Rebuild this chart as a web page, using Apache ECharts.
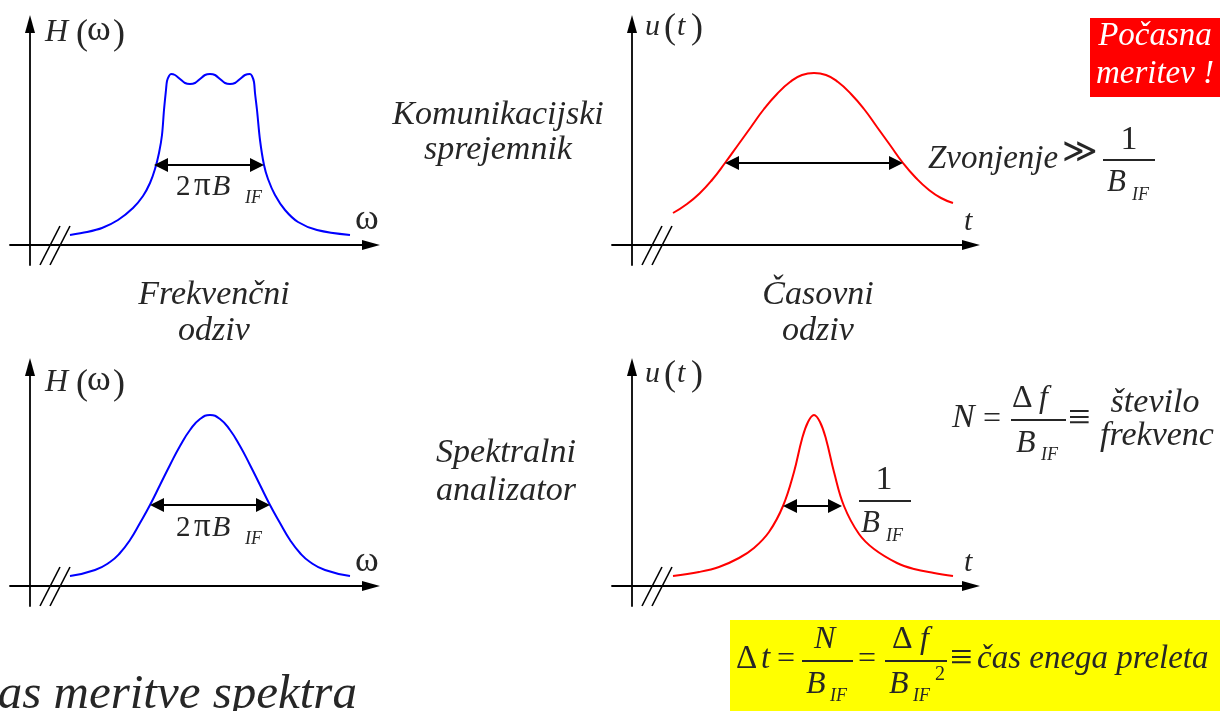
<!DOCTYPE html>
<html><head><meta charset="utf-8">
<script src="https://cdn.jsdelivr.net/npm/echarts@6/dist/echarts.min.js"></script>
<style>html,body{margin:0;padding:0;background:#fff}#c{width:1220px;height:711px}</style>
</head><body><div id="c"></div>
<script>
// ---- data (x: position along the axis, y: amplitude above the axis) ----
const filterX   = [40,57,72,88,103,113,120,125,129,132,134,136,137,139,141,145,150,155,160,165,170,175,180,185,190,195,200,205,210,215,220,222,224,225,227,230,234,238,245,255,268,287,320];
const filterY   = [10,13,17,25,37,49,62,76,92,110,135,155,164,169,171,170,166,162,161,162,166,170,171,170,166,162,161,162,166,170,171,169,163,152,135,105,80,66,50,35,23,15,10];
const ringX     = [41,55,68,80,93,106,119,132,145,158,170,182,194,206,219,232,245,258,271,284,297,309,321];
const ringY     = [32,41,52,65,82,100,118,136,151,163,170,172,170,163,151,136,118,100,82,67,55,47,42];
const gaussX    = [40,65,80,90,100,110,120,130,140,150,160,170,180,190,200,210,220,230,240,250,260,270,280,295,320];
const gaussY    = [10,16,24,33,46,63,81,101,121,140,156,167,171,167,156,140,121,101,81,63,46,33,24,16,10];
const pulseX    = [41,67,87,107,122,137,151,162,170,176,182,188,194,202,212,227,242,265,282,302,321];
const pulseY    = [10,14,19,28,38,54,80,114,147,164,171,164,147,114,80,52,37,23,17,13,10];
// width markers: [from, to, level]
const spanTL = [124,234,80];
const spanTR = [93,271,82];
const spanBL = [120,240,81];
const spanBR = [151,210,80];
// axis-break strokes
const breakA = [[10,-20],[30,19]];
const breakB = [[20,-20],[40,19]];

const zip = (xs, ys) => xs.map((x, i) => [x, ys[i]]);
const INK = '#262626';
const FONT = 'Liberation Serif';
const AH = 7; // half size of marker arrowheads

const grids = [
  {left:10,  top:24,  width:361, height:241},
  {left:612, top:24,  width:359, height:241},
  {left:10,  top:367, width:361, height:239},
  {left:612, top:367, width:359, height:239}
];
const xr = [[-20,341],[-20,339],[-20,341],[-20,339]];
const yr = [[-20,221],[-20,221],[-20,219],[-20,219]];

const axisLine = {show:true, onZero:true, symbol:['none','triangle'], symbolSize:[10,18], lineStyle:{color:'#000', width:1.8}};
const xAxis = grids.map((g,i)=>({gridIndex:i, type:'value', min:xr[i][0], max:xr[i][1], axisLine:axisLine, axisTick:{show:false}, axisLabel:{show:false}, splitLine:{show:false}}));
const yAxis = grids.map((g,i)=>({gridIndex:i, type:'value', min:yr[i][0], max:yr[i][1], axisLine:axisLine, axisTick:{show:false}, axisLabel:{show:false}, splitLine:{show:false}}));

function curve(i, xs, ys, color, span, sm){
  return {type:'line', xAxisIndex:i, yAxisIndex:i, data:zip(xs,ys), smooth:sm, showSymbol:false, silent:true,
    lineStyle:{color:color, width:2}, z:3,
    markLine:{silent:true, symbol:['triangle','triangle'], symbolSize:2*AH, animation:false,
      label:{show:false}, lineStyle:{color:'#000', width:2, type:'solid'},
      data:[[{coord:[span[0]+AH, span[2]]},{coord:[span[1]-AH, span[2]]}]]}};
}
function brk(i){
  return {type:'lines', coordinateSystem:'cartesian2d', xAxisIndex:i, yAxisIndex:i, silent:true, z:4,
    lineStyle:{color:'#000', width:1.6, opacity:1}, data:[{coords:breakA},{coords:breakB}]};
}

function T(x, b, s, size, o){
  o = o || {};
  return {type:'text', silent:true, z:20, x:x, y:b - 0.3375*size,
    style:{text:s, fontFamily:o.fam||FONT, fontSize:size, fontStyle:o.it?'italic':'normal', fill:o.fill||INK, align:o.align||'left', verticalAlign:'middle'}};
}
function bar(x1, x2, y){ return {type:'rect', silent:true, z:20, shape:{x:x1, y:y-1, width:x2-x1, height:2}, style:{fill:INK}}; }

const g = [];
// boxes
g.push({type:'rect', silent:true, z:1, shape:{x:1090, y:18, width:130, height:79}, style:{fill:'#ff0000'}});
g.push({type:'rect', silent:true, z:1, shape:{x:730, y:620, width:490, height:91}, style:{fill:'#ffff00'}});
// H(ω) labels
[43,393].forEach(b=>{
  g.push(T(45,b,'H',32,{it:1}), T(76,b+4,'(',36), T(87,b,'ω',36), T(113,b+4,')',36));
  g.push(T(355,b===43?232:574,'ω',36));
});
// 2πB_IF
[[197,204],[538,545]].forEach(([b,bs])=>{
  g.push(T(176,b,'2',29), T(194,b,'π',33), T(212,b,'B',30,{it:1}), T(245,bs,'IF',18,{it:1}));
});
// u(t)
[37,384].forEach(b=>{
  g.push(T(645,b,'u',30,{it:1}), T(664,b+4,'(',36), T(677,b,'t',30,{it:1}), T(691,b+4,')',36));
});
g.push(T(964,232,'t',30,{it:1}), T(964,573,'t',30,{it:1}));
// red box text
g.push(T(1155,47,'Počasna',33,{it:1,fill:'#fff',align:'center'}), T(1155,85,'meritev !',33,{it:1,fill:'#fff',align:'center'}));
// side captions
g.push(T(498,127,'Komunikacijski',34,{it:1,align:'center'}), T(498,162,'sprejemnik',34,{it:1,align:'center'}));
g.push(T(214,307,'Frekvenčni',34,{it:1,align:'center'}), T(214,343,'odziv',34,{it:1,align:'center'}));
g.push(T(818,307,'Časovni',34,{it:1,align:'center'}), T(818,343,'odziv',34,{it:1,align:'center'}));
g.push(T(506,465,'Spektralni',34,{it:1,align:'center'}), T(506,503,'analizator',34,{it:1,align:'center'}));
// Zvonjenje >> 1/B_IF
g.push(T(928,170,'Zvonjenje',33,{it:1}), T(1062,165,'≫',34,{fam:'DejaVu Serif'}));
g.push(T(1129,152,'1',34,{align:'center'}), bar(1103,1155,160), T(1107,193,'B',31,{it:1}), T(1132,201,'IF',18,{it:1}));
// 1/B_IF bottom
g.push(T(884,492,'1',34,{align:'center'}), bar(859,911,501), T(861,534,'B',31,{it:1}), T(886,542,'IF',18,{it:1}));
// N = Δf/B_IF ≡ število frekvenc
g.push(T(952,430,'N',34,{it:1}), T(983,430,'=',32));
g.push(T(1012,409,'Δ',32), T(1039,409,'f',32,{it:1}), bar(1011,1066,420), T(1016,454,'B',32,{it:1}), T(1041,461,'IF',18,{it:1}));
g.push(T(1068,433,'≡',40));
g.push(T(1155,415,'število',34,{it:1,align:'center'}), T(1157,448,'frekvenc',34,{it:1,align:'center'}));
// yellow box formula
g.push(T(736,670,'Δ',33), T(761,670,'t',33,{it:1}), T(777,670,'=',32));
g.push(T(814,650,'N',32,{it:1}), bar(802,853,661), T(806,695,'B',32,{it:1}), T(830,702,'IF',18,{it:1}));
g.push(T(858,670,'=',32));
g.push(T(892,650,'Δ',32), T(920,650,'f',32,{it:1}), bar(885,947,661), T(889,695,'B',32,{it:1}), T(913,702,'IF',18,{it:1}), T(935,681,'2',20));
g.push(T(950,673,'≡',40));
g.push(T(977,670,'čas enega preleta',33,{it:1}));
// title (cut at the page edges)
g.push(T(-35,712,'Čas meritve spektra',49,{it:1}));

const chart = echarts.init(document.getElementById('c'), null, {renderer:'canvas'});
chart.setOption({
  animation:false,
  backgroundColor:'#fff',
  grid:grids,
  xAxis:xAxis,
  yAxis:yAxis,
  series:[
    curve(0, filterX, filterY, '#0000ff', spanTL, 0.3),
    curve(1, ringX, ringY, '#ff0000', spanTR, 0.5),
    curve(2, gaussX, gaussY, '#0000ff', spanBL, 0.5),
    curve(3, pulseX, pulseY, '#ff0000', spanBR, 0.4),
    brk(0), brk(1), brk(2), brk(3)
  ],
  graphic:{elements:g}
});
</script></body></html>
